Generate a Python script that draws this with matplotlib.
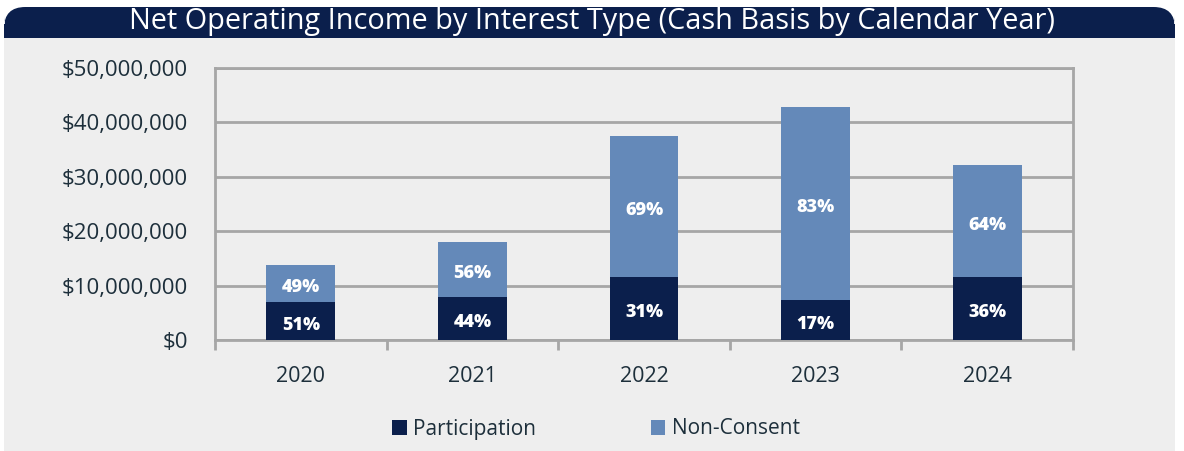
import matplotlib

matplotlib.use("Agg")
import matplotlib.pyplot as plt
from matplotlib.patches import FancyBboxPatch, Rectangle, Patch
from matplotlib.ticker import FuncFormatter, FixedLocator

years = ["2020", "2021", "2022", "2023", "2024"]
participation = [7.0e6, 7.9e6, 11.5e6, 7.35e6, 11.5e6]
non_consent = [6.8e6, 10.1e6, 26.0e6, 35.45e6, 20.7e6]
part_pct = ["51%", "44%", "31%", "17%", "36%"]
nc_pct = ["49%", "56%", "69%", "83%", "64%"]

navy = "#0b1f4c"
light = "#6489b9"
panel = "#eeeeee"
grid = "#a6a6a6"
text_col = "#1d2f3b"

plt.rcParams["font.family"] = ["Open Sans", "DejaVu Sans"]

W, H = 1184, 451
fig = plt.figure(figsize=(W / 100, H / 100), dpi=100)
fig.patch.set_facecolor("white")

# gray panel and title bar (pixel coords converted to figure fraction)
fig.patches.append(Rectangle((4 / W, 0), 1171 / W, (H - 36) / H,
                             transform=fig.transFigure, facecolor=panel,
                             edgecolor="none", zorder=0))
fig.patches.append(FancyBboxPatch((4 / W, (H - 38) / H), 1171 / W, 31 / H,
                                  boxstyle="round,pad=0,rounding_size=0.018",
                                  mutation_aspect=W / H,
                                  transform=fig.transFigure, facecolor=navy,
                                  edgecolor="none", zorder=1))
fig.patches.append(Rectangle((4 / W, (H - 38) / H), 1171 / W, 14 / H,
                             transform=fig.transFigure, facecolor=navy,
                             edgecolor="none", zorder=1))
fig.text(0.5, (H - 22) / H, "Net Operating Income by Interest Type (Cash Basis by Calendar Year)",
         ha="center", va="center", color="white", fontsize=20.8, zorder=2)

ax = fig.add_axes([215 / W, (H - 340) / H, 858 / W, 272 / H])
ax.set_zorder(5)
ax.set_facecolor(panel)
x = range(len(years))
ax.bar(x, participation, width=0.4, color=navy, zorder=3)
ax.bar(x, non_consent, width=0.4, bottom=participation, color=light, zorder=3)

for i in x:
    ax.annotate(part_pct[i], (i, participation[i] / 2), xytext=(0, -3),
                textcoords="offset points", ha="center", va="center",
                color="white", fontsize=13, fontweight="heavy", zorder=4)
    ax.annotate(nc_pct[i], (i, participation[i] + non_consent[i] / 2), xytext=(0, -3),
                textcoords="offset points", ha="center", va="center",
                color="white", fontsize=13, fontweight="heavy", zorder=4)

ax.set_xlim(-0.5, len(years) - 0.5)
ax.set_ylim(0, 50e6)
ax.set_yticks([0, 10e6, 20e6, 30e6, 40e6, 50e6])
ax.yaxis.set_major_formatter(FuncFormatter(lambda v, _: f"${v:,.0f}"))
ax.grid(axis="y", color=grid, linewidth=2, zorder=1)
ax.set_xticks(list(x))
ax.set_xticklabels(years)
ax.xaxis.set_minor_locator(FixedLocator([i - 0.5 for i in range(len(years) + 1)]))
ax.tick_params(axis="x", which="major", length=0, pad=19, labelsize=15.5, labelcolor=text_col)
ax.tick_params(axis="x", which="minor", length=7, width=2, color=grid)
ax.tick_params(axis="y", length=0, pad=19.5, labelsize=16, labelcolor=text_col)
for s in ax.spines.values():
    s.set_color(grid)
    s.set_linewidth(2)

handles = [Patch(facecolor=navy, label="Participation"),
           Patch(facecolor=light, label="Non-Consent")]
fig.legend(handles=handles, loc="center", bbox_to_anchor=(596 / W, (H - 429) / H),
           ncol=2, frameon=False, fontsize=15, handlelength=0.7, handleheight=0.7,
           handletextpad=0.3, columnspacing=5.5, labelcolor=text_col)

fig.savefig("out.png", dpi=100, facecolor=fig.get_facecolor())
